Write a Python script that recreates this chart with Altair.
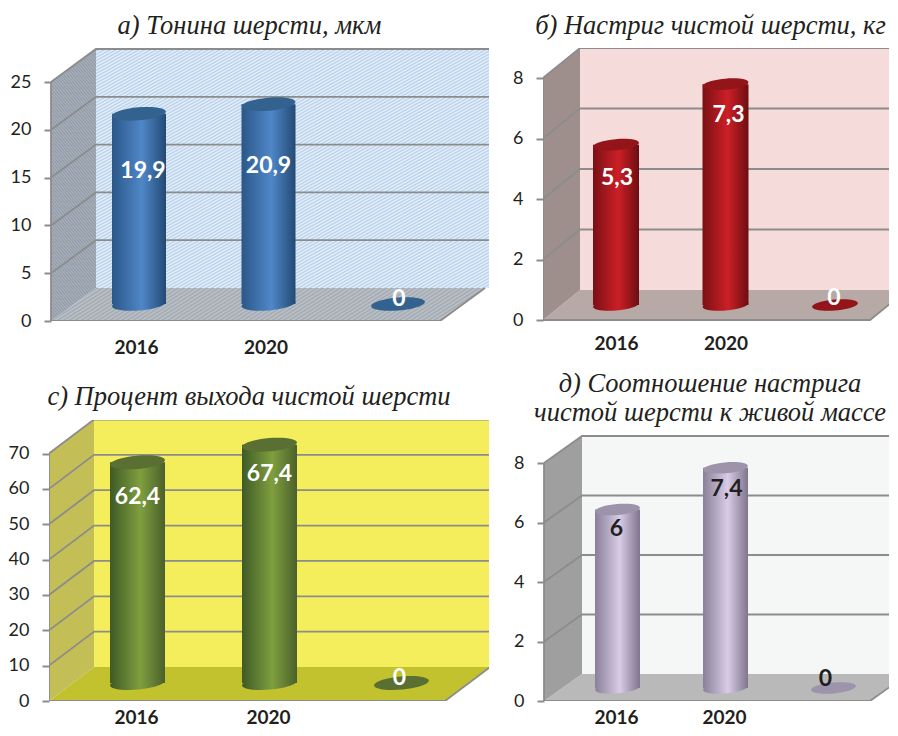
import altair as alt
import pandas as pd

categories = ["2016", "2020", ""]
titles_a = ["а) Тонина шерсти, мкм"]
titles_b = ["б) Настриг чистой шерсти, кг"]
titles_c = ["с) Процент выхода чистой шерсти"]
titles_d = ["д) Соотношение настрига", "чистой шерсти к живой массе"]
values_a = [19.9, 20.9, 0]
values_b = [5.3, 7.3, 0]
values_c = [62.4, 67.4, 0]
values_d = [6, 7.4, 0]
ticks_a = [0, 5, 10, 15, 20, 25]
ticks_b = [0, 2, 4, 6, 8]
ticks_c = [0, 10, 20, 30, 40, 50, 60, 70]
ticks_d = [0, 2, 4, 6, 8]

SERIF = "Liberation Serif"
SANS = "Lato"
TEXT = "#231f20"
LINE = "#8c8c8c"


def hatch(c1, c2, n=300):
    stops = []
    for i in range(n + 1):
        stops.append(alt.GradientStop(offset=i / n, color=c1 if i % 2 == 0 else c2))
    return alt.Gradient(gradient="linear", x1=0, y1=0, x2=1, y2=1, stops=stops)


def cyl(edge_l, mid, edge_r):
    return alt.Gradient(
        gradient="linear", x1=0, y1=0, x2=1, y2=0,
        stops=[
            alt.GradientStop(offset=0, color=edge_l),
            alt.GradientStop(offset=0.55, color=mid),
            alt.GradientStop(offset=1, color=edge_r),
        ],
    )


ELLIPSE = "M-1,0A1,0.24,0,1,1,1,0A1,0.24,0,1,1,-1,0Z"


def panel(values, ticks, titles, title_x, title_ys, W, H, ax_off, x_front, x_back, x_fr, y0, ymax_px, y0_back, first, step,
          cw, base_px, lab_off, label_offs, label_dx, label_color, back, floor, side, body, top, lab_pad, axis_top):
    # scales: category units on x, data units on y (all pixel arguments are relative to the plot's own box)
    ppu = (y0 - ymax_px) / ticks[-1]
    ydom = [(y0 - H) / ppu, y0 / ppu]
    xdom = [-first / step, (W - first) / step]
    X = lambda px: (px - first) / step
    V = lambda px: (y0 - px) / ppu
    sx = alt.Scale(domain=xdom, nice=False, zero=False)
    sy = alt.Scale(domain=ydom, nice=False, zero=False)
    layers = []

    xax = alt.Axis(
        values=[-lab_off, 1 - lab_off], labelExpr="datum.value < 0.5 ? '2016' : '2020'",
        domain=False, ticks=False, grid=False, labelFont=SANS, labelFontWeight="bold", labelFontSize=19,
        labelColor=TEXT, labelPadding=lab_pad, labelAngle=0, title=None)
    yax = alt.Axis(
        values=ticks, offset=-ax_off, domain=False, grid=False, tickColor=LINE, tickSize=7, tickWidth=2,
        labelFont=SANS, labelFontSize=18, labelColor=TEXT, labelPadding=13, format="d", title=None)
    xn = alt.X("x:Q", scale=sx, axis=xax)
    yn = alt.Y("y:Q", scale=sy, axis=yax)

    # back wall
    bw = pd.DataFrame({"x": [X(x_back)], "x2": [X(W + 40)], "y": [V(y0_back)], "y2": [V(axis_top)]})
    layers.append(alt.Chart(bw).mark_rect(color=back, clip=True).encode(x=xn, x2="x2:Q", y=yn, y2="y2:Q"))

    # floor
    fl = pd.DataFrame({"x": [X(x_front), X(x_back), X(x_fr), X(x_fr + x_back - x_front)],
                       "y": [V(y0), V(y0), V(y0), V(y0_back)],
                       "y2": [V(y0), V(y0_back), V(y0_back), V(y0_back)]})
    layers.append(alt.Chart(fl).mark_area(color=floor, clip=True).encode(x=xn, y=yn, y2="y2:Q"))

    # side wall
    top_front = ymax_px
    sd = pd.DataFrame({"x": [X(x_front), X(x_back)], "y": [V(y0), V(y0_back)], "y2": [V(top_front), V(axis_top)]})
    layers.append(alt.Chart(sd).mark_area(color=side).encode(x=xn, y=yn, y2="y2:Q"))

    # gridlines: along the side wall and the back wall
    depth_v = (y0 - y0_back) / ppu
    rows = []
    for t in ticks:
        if t == 0:
            rows += [dict(g="t0", x=X(x_front), y=0), dict(g="t0", x=X(x_fr), y=0),
                     dict(g="t0", x=X(x_fr + x_back - x_front), y=depth_v)]
            continue
        rows += [dict(g=f"t{t}", x=X(x_front), y=t), dict(g=f"t{t}", x=X(x_back), y=t + depth_v),
                 dict(g=f"t{t}", x=X(W + 40), y=t + depth_v)]
    rows += [dict(g="v", x=X(x_front), y=0), dict(g="v", x=X(x_front), y=ticks[-1])]
    grid = pd.DataFrame(rows)
    layers.append(alt.Chart(grid).mark_line(color=LINE, strokeWidth=1.8, clip=True).encode(
        x=xn, y=yn, detail="g:N"))

    # cylinders
    base_v = V(base_px)
    half = (cw / 2) / step
    for i, v in enumerate(values):
        row = pd.DataFrame({"x": [float(i)], "x1": [i - half], "x2": [i + half], "y": [v + base_v], "y0": [base_v],
                            "cat": [categories[i]]})
        size = alt.value(cw * cw)
        if v > 0:
            layers.append(alt.Chart(row).mark_point(filled=True, opacity=1, shape=ELLIPSE, color=body, angle=355).encode(
                x=xn, y=alt.Y("y0:Q", scale=sy, axis=yax), size=size))
            layers.append(alt.Chart(row).mark_rect(color=body).encode(
                x=alt.X("x1:Q", scale=sx, axis=xax), x2="x2:Q", y=yn, y2="y0:Q"))
        layers.append(alt.Chart(row).mark_point(filled=True, opacity=1, shape=ELLIPSE, color=top, angle=355).encode(
            x=xn, y=yn, size=size))

    # value labels
    for i, v in enumerate(values):
        row = pd.DataFrame({"x": [float(i)], "y": [v + base_v], "t": [str(v).replace(".", ",")]})
        layers.append(alt.Chart(row).mark_text(
            font=SANS, fontWeight="bold", fontSize=23, color=label_color,
            dy=label_offs[i], dx=label_dx[i]).encode(x=xn, y=yn, text="t:N"))

    # titles
    for line, ty in zip(titles, title_ys):
        row = pd.DataFrame({"x": [X(title_x)], "y": [V(ty)], "t": [line]})
        layers.append(alt.Chart(row).mark_text(
            font=SERIF, fontStyle="italic", fontSize=26.5, color=TEXT).encode(
            x=xn, y=yn, text="t:N"))

    return alt.layer(*layers).properties(width=W, height=H)


a = panel(values_a, ticks_a, titles_a, 250.5 - 50, [-22], 440, 273, 2, 2, 47, 391, 273, 34, 240, 90, 129.5, 54, 256,
          3 / 129.5, [57, 62, -5], [4, 0, 1], "white",
          hatch("#b5cfeb", "#eaf2fa"), hatch("#a0a8b1", "#bec3c8"), hatch("#8f99a6", "#aab2bc"),
          cyl("#2b5788", "#4f87c8", "#234a75"), "#34628f", 17, 0)
b = panel(values_b, ticks_b, titles_b, 711.5 - 544, [-22], 346, 273, 0, 0, 37, 327, 272, 30, 242, 73, 109.5, 46, 257,
          0, [33, 31, -7], [1, 3, -1], "white",
          "#f5dcdb", "#b7a9a6", "#9e8f8d", cyl("#7a1015", "#cc1f26", "#6d0e12"), "#93151a", 13, 0)
c = panel(values_c, ticks_c, titles_c, 250 - 50, [-23], 440, 281, 0, 0, 45, 396, 281, 33.5, 247, 88.5, 132, 55, 263,
          1.5 / 132, [35, 29, -5], [0, 0, -2], "white",
          "#f5ee5c", "#c2c22f", "#c3bf56", cyl("#3f5a26", "#7f9f3e", "#4b602b"), "#5a6f32", 7, 0)
d = panel(values_d, ticks_d, titles_d, 711 - 544, [-36, -7], 346, 281, 1, 1, 39, 327, 281, 43, 254, 74.5, 108, 45, 268,
          1.5 / 108, [19, 21, -9], [-1, 1, -8], TEXT,
          "#f4f7f6", "#b9b9b9", "#9f9f9f", cyl("#8a8098", "#d8cce6", "#7f758c"), "#9d93ab", 7, 16)

chart = alt.concat(a, b, c, d, columns=2, spacing={"column": 54, "row": 99}, bounds="flush").properties(
    padding={"left": 0, "top": 5, "right": 0, "bottom": 0}
).configure_view(stroke=None)

chart.save("out.html", embed_options={"renderer": "svg", "actions": False})
